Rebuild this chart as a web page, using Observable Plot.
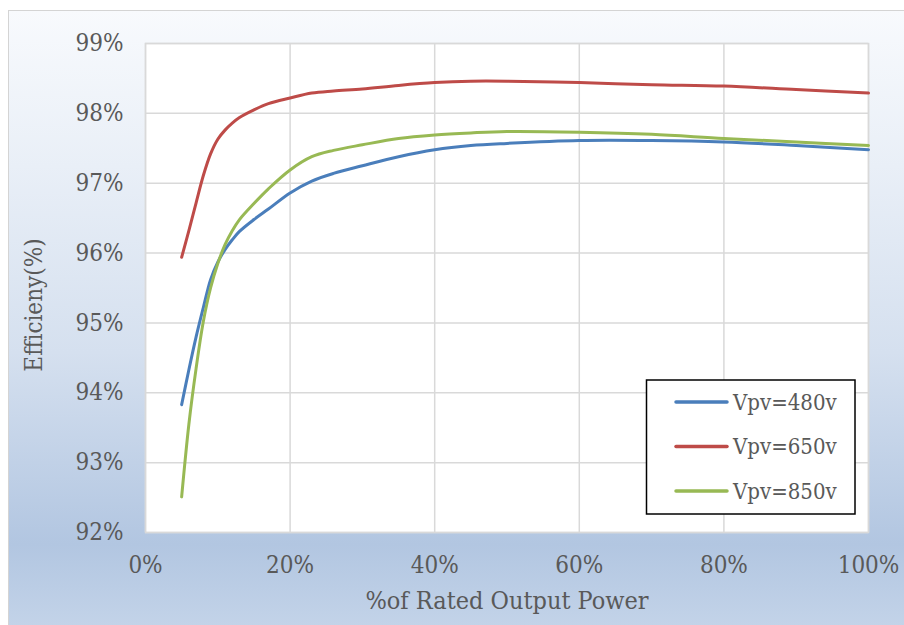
<!DOCTYPE html>
<html><head><meta charset="utf-8">
<script src="https://cdn.jsdelivr.net/npm/d3@7"></script>
<script src="https://cdn.jsdelivr.net/npm/@observablehq/plot@0.6"></script>
<style>
body{margin:0;width:904px;height:625px;overflow:hidden;background:#fff;}
#bg{position:absolute;left:8px;top:10px;width:910px;height:620px;border:1px solid #d4d4d4;
background:linear-gradient(to bottom,#f8fafd 0%,#e9eff7 25%,#d5e0ef 55%,#b2c6e1 86%,#c4d4e9 100%);}
#chart{position:absolute;left:0;top:0;}
</style></head>
<body><div id="bg"></div><div id="chart"></div>
<script>
const power = [5,6,7,8,9,10,11,12,13,15,17,20,23,26,30,35,40,45,50,60,70,80,90,100];
const eff480 = [93.83,94.33,94.80,95.22,95.62,95.87,96.05,96.19,96.31,96.48,96.63,96.86,97.03,97.14,97.25,97.38,97.48,97.54,97.57,97.61,97.61,97.59,97.54,97.48];
const eff650 = [95.94,96.32,96.72,97.11,97.42,97.63,97.76,97.86,97.94,98.05,98.14,98.22,98.29,98.32,98.35,98.40,98.44,98.46,98.46,98.44,98.41,98.39,98.34,98.29];
const eff850 = [92.51,93.55,94.35,95.02,95.50,95.85,96.12,96.32,96.48,96.71,96.92,97.19,97.38,97.47,97.55,97.64,97.69,97.72,97.74,97.73,97.70,97.64,97.59,97.54];
const seriesNames = ["Vpv=480v","Vpv=650v","Vpv=850v"];
const seriesColors = ["#4a7ebb","#be4b48","#98b954"];
const xTicks = [0,20,40,60,80,100];
const yTicks = [92,93,94,95,96,97,98,99];
const xLabel = "%of Rated Output Power";
const yLabel = "Efficieny(%)";

const seriesValues = [eff480, eff650, eff850];
const data = seriesNames.flatMap((name, i) => power.map((p, j) => ({series: name, power: p, eff: seriesValues[i][j]})));

const font = "'DejaVu Serif Condensed', 'DejaVu Serif', serif";
const textColor = "#595959";

const chart = Plot.plot({
  width: 904, height: 625,
  marginLeft: 145, marginRight: 36, marginTop: 43, marginBottom: 93,
  style: {background: "transparent", fontFamily: font, color: textColor},
  x: {domain: [0, 100]},
  y: {domain: [92, 99]},
  color: {domain: seriesNames, range: seriesColors},
  marks: [
    Plot.frame({fill: "white", stroke: "#d9d9d9", strokeWidth: 1.5}),
    Plot.gridX(xTicks, {stroke: "#d9d9d9", strokeOpacity: 1, strokeWidth: 1.5}),
    Plot.gridY(yTicks, {stroke: "#d9d9d9", strokeOpacity: 1, strokeWidth: 1.5}),
    Plot.axisY(yTicks, {tickSize: 0, tickPadding: 22, tickFormat: d => d + "%", fontSize: 24, fill: textColor, label: null}),
    Plot.axisX(xTicks, {tickSize: 0, tickPadding: 23, tickFormat: d => d + "%", fontSize: 24, fill: textColor, label: null}),
    Plot.line(data, {x: "power", y: "eff", z: "series", stroke: "series", strokeWidth: 3, curve: "catmull-rom"}),
    Plot.text([xLabel], {frameAnchor: "bottom", textAnchor: "middle", dy: 76, fontSize: 25, fill: textColor}),
    Plot.text([yLabel], {frameAnchor: "left", textAnchor: "middle", dx: -111, dy: 17, rotate: -90, fontSize: 24, fill: textColor})
  ]
});
document.getElementById("chart").appendChild(chart);

// legend
const svg = d3.select(chart);
const lg = svg.append("g");
lg.append("rect").attr("x", 646.5).attr("y", 380).attr("width", 208.5).attr("height", 134)
  .attr("fill", "white").attr("stroke", "black").attr("stroke-width", 1.5);
seriesNames.forEach((name, i) => {
  const y = 402 + i * 44.5;
  lg.append("line").attr("x1", 676).attr("x2", 727).attr("y1", y).attr("y2", y)
    .attr("stroke", seriesColors[i]).attr("stroke-width", 3.5).attr("stroke-linecap", "round");
  lg.append("text").attr("x", 733).attr("y", y).attr("dy", "0.35em")
    .attr("text-anchor", "start")
    .attr("font-family", font).attr("font-size", 22).attr("fill", textColor).text(name);
});
</script>
</body></html>
